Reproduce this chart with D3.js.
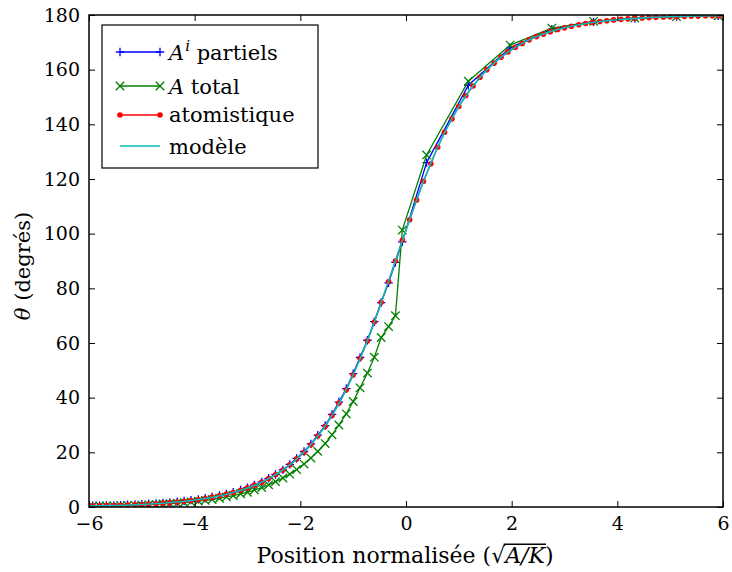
<!DOCTYPE html>
<html><head><meta charset="utf-8">
<script src="https://cdn.jsdelivr.net/npm/d3@7"></script>
<style>
body{margin:0;background:#fff;}
svg text{font-family:"DejaVu Serif",serif;fill:#000;}
</style>
</head><body>
<svg id="c" width="732" height="572"></svg>
<script>
// ---------- data ----------
const xTicks = [-6, -4, -2, 0, 2, 4, 6];
const yTicks = [0, 20, 40, 60, 80, 100, 120, 140, 160, 180];

// fine grid (left half), shared by "A^i partiels" and "A total"
const fineX = [-5.93,-5.80,-5.67,-5.53,-5.40,-5.27,-5.13,-5.00,-4.87,-4.73,-4.60,-4.47,-4.33,-4.20,-4.07,
  -3.93,-3.80,-3.67,-3.53,-3.40,-3.27,-3.13,-3.00,-2.87,-2.73,-2.60,-2.47,-2.33,-2.20,-2.07,
  -1.93,-1.80,-1.67,-1.53,-1.40,-1.27,-1.13,-1.00,-0.87,-0.73,-0.60,-0.47,-0.33,-0.20,-0.07];
// coarse grid (right half)
const coarseX = [0.39, 1.18, 1.97, 2.76, 3.55, 4.33, 5.12, 5.91];

const partielsFine = [0.5,0.5,0.6,0.6,0.7,0.8,0.9,1.0,1.2,1.3,1.5,1.7,1.9,2.2,2.5,2.8,3.2,3.7,4.2,4.8,
  5.4,6.2,7.1,8.1,9.2,10.5,11.9,13.6,15.6,17.8,20.3,23.1,26.3,29.8,33.9,38.4,43.3,48.8,54.7,61.0,
  67.8,74.8,82.0,89.5,97.0];
const partielsCoarse = [126.0, 154.3, 168.0, 174.8, 177.5, 178.8, 179.4, 179.7];

const totalFine = [0.31,0.36,0.40,0.41,0.51,0.56,0.61,0.71,0.81,0.93,1.11,1.23,1.4,1.6,1.85,2.15,2.4,2.75,3.2,3.7,
  4.2,4.8,5.4,6.2,7.1,8.1,9.3,10.6,12.0,13.7,15.7,17.9,20.35,23.2,26.4,30.0,34.1,38.6,43.6,49.0,
  54.8,62.0,66.0,70.0,101.3];
const totalCoarse = [128.8, 155.8, 169.0, 175.2, 177.7, 178.9, 179.4, 179.7];

const atomX = [-5.93,-5.80,-5.67,-5.53,-5.40,-5.27,-5.13,-5.00,-4.87,-4.73,-4.60,-4.47,-4.33,-4.20,-4.07,
  -3.93,-3.80,-3.67,-3.53,-3.40,-3.27,-3.13,-3.00,-2.87,-2.73,-2.60,-2.47,-2.33,-2.20,-2.07,
  -1.93,-1.80,-1.67,-1.53,-1.40,-1.27,-1.13,-1.00,-0.87,-0.73,-0.60,-0.47,-0.33,-0.20,-0.07,
  0.07,0.20,0.33,0.47,0.60,0.73,0.87,1.00,1.13,1.27,1.40,1.53,1.67,1.80,1.93,
  2.07,2.20,2.33,2.47,2.60,2.73,2.87,3.00,3.13,3.27,3.40,3.53,3.67,3.80,3.93,
  4.07,4.20,4.33,4.47,4.60,4.73,4.87,5.00,5.13,5.27,5.40,5.53,5.67,5.80,5.93];
const atomY = [0.4,0.4,0.5,0.55,0.6,0.7,0.8,0.9,1.1,1.2,1.4,1.6,1.8,2.1,2.4,2.7,3.1,3.6,4.1,4.7,
  5.3,6.1,7.0,8.0,9.1,10.4,11.8,13.5,15.4,17.6,20.0,22.8,26.0,29.5,33.5,38.0,42.9,48.4,54.4,60.8,
  67.7,74.9,82.4,90.0,97.6,
  105.1,112.3,119.2,125.6,131.6,137.1,142.0,146.5,150.5,154.0,157.2,160.0,162.4,164.6,166.5,
  168.2,169.6,170.9,172.1,173.0,173.9,174.7,175.3,175.9,176.4,176.9,177.3,177.6,177.9,178.2,
  178.4,178.6,178.8,178.9,179.1,179.2,179.3,179.4,179.45,179.5,179.6,179.6,179.7,179.7,179.75];

const modelX = [-6,-5.5,-5,-4.5,-4,-3.5,-3,-2.8,-2.6,-2.4,-2.2,-2,-1.8,-1.6,-1.4,-1.2,-1,-0.8,-0.6,-0.4,-0.2,
  0,0.2,0.4,0.6,0.8,1,1.2,1.4,1.6,1.8,2,2.2,2.4,2.6,2.8,3,3.5,4,4.5,5,5.5,6];
const modelY = [0.35,0.57,0.94,1.55,2.56,4.22,6.96,8.50,10.37,12.65,15.41,18.77,22.83,27.70,33.52,40.40,48.39,57.52,67.67,78.62,90.0,
  101.38,112.33,122.48,131.61,139.60,146.48,152.30,157.17,161.23,164.59,167.35,169.63,171.50,173.04,174.30,175.33,
  177.17,178.28,178.96,179.37,179.62,179.77];

const legendLabels = ["partiels", "total", "atomistique", "modèle"];

// ---------- chart ----------
const FONT = '"DejaVu Serif",serif';
const svg = d3.select("#c");
const x = d3.scaleLinear().domain([-6, 6]).range([89, 723]);
const y = d3.scaleLinear().domain([0, 180]).range([507, 15]);

svg.append("defs").append("clipPath").attr("id", "clip")
  .append("rect").attr("x", 89).attr("y", 15).attr("width", 634).attr("height", 492);

const zip = (xs, ys) => xs.map((v, i) => [v, ys[i]]);
const seriesPartiels = zip(fineX.concat(coarseX), partielsFine.concat(partielsCoarse));
const seriesTotal = zip(fineX.concat(coarseX), totalFine.concat(totalCoarse));
const seriesAtom = zip(atomX, atomY);
const seriesModel = zip(modelX, modelY);

const line = d3.line().x(d => x(d[0])).y(d => y(d[1]));
const smooth = d3.line().x(d => x(d[0])).y(d => y(d[1])).curve(d3.curveMonotoneX);

const COL = {blue: "#0000ff", green: "#008000", red: "#ff0000", cyan: "#00bfbf"};
const LW = 1.3, MS = 4.2;
const plusPath = `M${-MS},0H${MS}M0,${-MS}V${MS}`;
const crossPath = `M${-MS},${-MS}L${MS},${MS}M${-MS},${MS}L${MS},${-MS}`;

const plot = svg.append("g").attr("clip-path", "url(#clip)");

function drawSeries(g, data, color, marker) {
  g.append("path").datum(data).attr("d", line).attr("fill", "none")
    .attr("stroke", color).attr("stroke-width", LW);
  if (marker === "dot") {
    g.selectAll(null).data(data).enter().append("circle")
      .attr("cx", d => x(d[0])).attr("cy", d => y(d[1])).attr("r", 2.8).attr("fill", color);
  } else {
    g.selectAll(null).data(data).enter().append("path")
      .attr("transform", d => `translate(${x(d[0])},${y(d[1])})`)
      .attr("d", marker).attr("stroke", color).attr("stroke-width", LW).attr("fill", "none");
  }
}
drawSeries(plot.append("g"), seriesPartiels, COL.blue, plusPath);
drawSeries(plot.append("g"), seriesTotal, COL.green, crossPath);
drawSeries(plot.append("g"), seriesAtom, COL.red, "dot");
plot.append("path").datum(seriesModel).attr("d", smooth).attr("fill", "none")
  .attr("stroke", COL.cyan).attr("stroke-width", 1.6);

// ---------- axes ----------
function styleAxis(g) {
  g.select(".domain").remove();
  g.attr("font-family", FONT).attr("font-size", 19);
  g.selectAll(".tick line").attr("stroke", "#000").attr("stroke-width", 1);
  g.selectAll(".tick text").attr("fill", "#000");
}
const fmt = d3.format("d");
svg.append("g").attr("transform", "translate(0,507)")
  .call(d3.axisBottom(x).tickValues(xTicks).tickSize(-6).tickPadding(10).tickFormat(fmt)).call(styleAxis);
svg.append("g").attr("transform", "translate(0,15)")
  .call(d3.axisTop(x).tickValues(xTicks).tickSize(-6).tickFormat("")).call(styleAxis);
svg.append("g").attr("transform", "translate(89,0)")
  .call(d3.axisLeft(y).tickValues(yTicks).tickSize(-6).tickPadding(9).tickFormat(fmt)).call(styleAxis);
svg.append("g").attr("transform", "translate(723,0)")
  .call(d3.axisRight(y).tickValues(yTicks).tickSize(-6).tickFormat("")).call(styleAxis);

// frame
svg.append("rect").attr("x", 89).attr("y", 15).attr("width", 634).attr("height", 492)
  .attr("fill", "none").attr("stroke", "#000").attr("stroke-width", 1.5);

// axis labels
const yl = svg.append("text").attr("transform", "translate(30,266) rotate(-90)")
  .attr("text-anchor", "middle").attr("font-size", 21);
yl.append("tspan").attr("font-style", "italic").text("θ");
yl.append("tspan").text(" (degrés)");

const xl = svg.append("text").attr("x", 405).attr("y", 563)
  .attr("text-anchor", "middle").attr("font-size", 22);
xl.append("tspan").text("Position normalisée (");
xl.append("tspan").text("√");
xl.append("tspan").attr("font-style", "italic").text("A/K");
xl.append("tspan").text(")");
// radical bar over A/K
{
  const n = xl.node();
  const iRad = "Position normalisée (".length;
  const ext = n.getExtentOfChar(iRad);
  const xEnd = n.getEndPositionOfChar(iRad + 3).x;
  svg.append("line").attr("x1", ext.x + ext.width - 1.5).attr("x2", xEnd + 1)
    .attr("y1", ext.y + 1.2).attr("y2", ext.y + 1.2)
    .attr("stroke", "#000").attr("stroke-width", 1.4);
}

// ---------- legend ----------
const lg = svg.append("g");
lg.append("rect").attr("x", 102).attr("y", 25).attr("width", 216).attr("height", 143)
  .attr("fill", "#fff").attr("stroke", "#000").attr("stroke-width", 1.2);
const rowsY = [52, 86, 115, 146];
const baseY = [60, 94, 122, 154];
const rowCol = [COL.blue, COL.green, COL.red, COL.cyan];
const rowMark = [plusPath, crossPath, "dot", null];
rowsY.forEach((ry, i) => {
  lg.append("line").attr("x1", 120).attr("x2", 160).attr("y1", ry).attr("y2", ry)
    .attr("stroke", rowCol[i]).attr("stroke-width", i === 3 ? 1.6 : LW);
  [120, 160].forEach(mx => {
    if (rowMark[i] === "dot") {
      lg.append("circle").attr("cx", mx).attr("cy", ry).attr("r", 2.8).attr("fill", rowCol[i]);
    } else if (rowMark[i]) {
      lg.append("path").attr("transform", `translate(${mx},${ry})`).attr("d", rowMark[i])
        .attr("stroke", rowCol[i]).attr("stroke-width", LW).attr("fill", "none");
    }
  });
  const t = lg.append("text").attr("x", 169).attr("y", baseY[i]).attr("font-size", 21);
  if (i === 0) {
    t.append("tspan").attr("font-style", "italic").text("A");
    t.append("tspan").attr("font-style", "italic").attr("font-size", 15).attr("dy", -9).attr("dx", 1).text("i");
    t.append("tspan").attr("dy", 9).text(" " + legendLabels[0]);
  } else if (i === 1) {
    t.append("tspan").attr("font-style", "italic").text("A");
    t.append("tspan").text(" " + legendLabels[1]);
  } else {
    t.text(legendLabels[i]);
  }
});
</script>
</body></html>
